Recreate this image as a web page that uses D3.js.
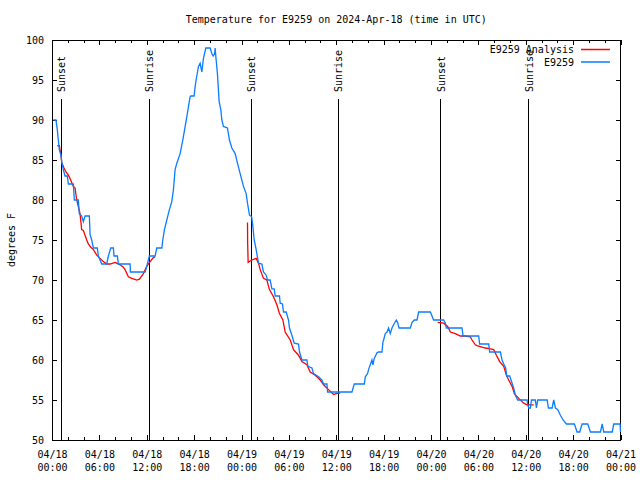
<!DOCTYPE html>
<html>
<head>
<meta charset="utf-8">
<script src="https://cdn.jsdelivr.net/npm/d3@7"></script>
<style>
  html, body { margin: 0; padding: 0; background: #fff; }
  svg { display: block; }
  text { font-family: "DejaVu Sans Mono", "Liberation Mono", monospace; font-size: 10px; fill: #000; }
</style>
</head>
<body>
<svg id="chart" width="640" height="480"></svg>
<script>
// ---- data (hours since 2024-04-18 00:00 UTC) ----
const titleText = "Temperature for E9259 on 2024-Apr-18 (time in UTC)";
const yLabel = "degrees F";
const seriesNames = ["E9259 Analysis", "E9259"];
const yTicks = [50, 55, 60, 65, 70, 75, 80, 85, 90, 95, 100];

const obsHours = [0.16,0.50,0.67,0.80,0.93,1.14,1.23,1.43,1.65,1.94,2.07,2.70,2.83,3.33,3.46,3.76,3.97,4.18,4.73,4.82,5.03,5.24,5.74,5.87,6.30,6.93,7.14,7.44,7.77,7.86,8.28,8.40,9.89,9.93,11.79,12.00,12.33,13.06,13.27,13.91,14.03,14.24,14.54,14.87,15.17,15.38,15.59,15.81,16.23,16.64,17.07,17.49,17.58,18.00,18.13,18.25,18.55,18.76,18.98,19.18,19.48,20.03,20.24,20.41,20.60,20.66,20.79,20.95,21.17,21.38,21.51,21.71,22.22,22.47,22.78,23.20,23.49,23.83,24.25,24.59,24.76,25.01,25.29,25.44,25.61,25.86,26.15,26.58,26.78,27.13,27.29,27.63,27.85,28.14,28.27,28.81,28.90,29.19,29.32,29.66,29.95,30.08,30.38,30.68,31.22,31.35,31.65,32.28,32.41,32.92,33.12,33.76,34.19,34.39,34.82,34.90,37.99,38.28,39.55,39.68,39.97,40.09,40.31,40.52,40.65,40.81,41.16,41.36,41.79,41.92,42.00,42.21,42.43,42.63,42.84,43.06,43.26,43.61,43.77,43.95,45.38,45.60,45.89,46.23,46.43,47.92,48.33,49.60,49.82,49.94,51.93,52.06,54.04,54.16,55.31,55.43,56.79,57.00,57.21,57.46,57.59,57.97,58.27,58.47,58.69,58.98,60.17,60.25,60.38,60.59,60.72,61.22,61.35,61.52,62.71,62.87,63.34,63.54,63.76,64.05,64.39,64.73,65.15,66.16,66.50,66.83,67.14,67.85,68.19,69.46,69.68,69.88,70.95,71.15,71.95,72.00];
const obsTemps = [90,90,88.8,87.5,86.3,85.6,84.8,83.8,83,83,82,82,80,80,78.3,78,77.3,78,78,75.7,75,74,74,73,72,72,73,74,74,73,73,72,72,71,71,71.7,73,73,74,74,75,76.3,77.5,78.8,79.8,81.3,83.8,84.6,85.8,87.9,90.4,92.9,93,93,94.2,95,96.7,97.1,96,97.7,99,99,98.3,98,98.3,99,97.5,95.8,92.3,91.3,90,89.2,89,87.5,86.5,85.8,84.6,83.3,81.7,80.8,79.6,78.1,77.9,76.7,75,73.8,72.1,72,71,70.6,70,70,68.9,68.9,68,68,67.1,67,66,66,65,64,63.1,62.1,62,61,60,60,59.2,59,58.3,57.9,57.5,57,57,56,56,57,57,57.9,58.3,58.8,59.4,60,59.4,60.2,60.9,61,61,62.3,62.5,63.3,63.5,64,63.3,64,64.4,65,64.7,64,64,64.7,65,65,66,66,65,65,64.6,64,64,63,63,62,62,61,61,60,59.5,59,58,58,57.1,56.5,55.6,55,55,54.4,54,54,55,55,54,55,55,54,54,55,54,53.8,53.1,52.5,52,52,51,51,52,52,51,51,52,51,51,52,52,51];

const anaHours1 = [0.67,0.93,1.01,1.14,1.23,1.52,1.77,2.07,2.37,2.57,2.70,2.92,3.13,3.33,3.55,3.76,3.97,4.18,4.40,4.60,4.91,5.24,5.67,6.08,6.50,6.93,7.35,7.99,8.62,9.04,9.25,9.67,10.10,10.74,11.07,11.57,12.00,12.42,12.84,13.06];
const anaTemps1 = [86.8,86.8,86.3,85.6,84.7,84,83.5,83.1,82.5,82,81.7,81.5,80,79.2,78.3,76.3,76.2,75.6,75,74.5,74.1,73.8,73.1,72.7,72.3,72,72,72.2,71.9,71.6,71.3,70.4,70.2,70,70.1,70.8,71.7,72.3,72.8,72.9];
const anaHours2 = [24.76,24.78,24.84,25.31,25.86,26.15,26.37,26.78,27.21,27.54,28.05,28.48,28.81,29.24,29.53,30.17,30.59,31.22,31.65,32.28,32.70,33.34,33.97,34.39,35.02,35.66,36.00,36.51];
const anaTemps2 = [77.2,74.6,72.2,72.5,72.7,72.1,71.3,70.2,70,68.8,67.9,66.9,65.8,65,63.5,62.5,61.3,60.6,59.8,59.4,58.5,58.1,57.5,56.9,56.3,55.7,55.8,55.9];
const anaHours3 = [48.84,49.60,50.11,50.45,51.08,51.72,52.35,52.98,53.20,53.62,53.83,54.88,55.51,55.94,56.28,56.70,57.21,57.55,57.84,58.27,58.56,59.11,59.74,60.17,61.01];
const anaTemps3 = [64.7,64.6,64.2,63.5,63.3,63,63,62.9,62.5,61.9,61.8,61.5,61.4,61.3,60.6,59.8,59.2,58.1,57.5,56.7,55.8,55.2,54.6,54.4,54.4];

const eventNames = ["Sunset", "Sunrise", "Sunset", "Sunrise", "Sunset", "Sunrise"];
const eventTimes = ["2024-04-18T01:11Z", "2024-04-18T12:19Z", "2024-04-19T01:15Z", "2024-04-19T12:17Z", "2024-04-20T01:13Z", "2024-04-20T12:22Z"];

// ---- layout ----
const svg = d3.select("#chart");
const L = 52, R = 620.5, T = 40, B = 440;
const t0 = Date.UTC(2024, 3, 18, 0, 0);
const t1 = Date.UTC(2024, 3, 21, 0, 0);
const toDate = h => new Date(t0 + h * 3600e3);

const x = d3.scaleUtc().domain([new Date(t0), new Date(t1)]).range([L, R]);
const y = d3.scaleLinear().domain([50, 100]).range([B, T]);

svg.append("rect").attr("width", 640).attr("height", 480).attr("fill", "#fff");

const majorX = d3.utcHour.every(6).range(new Date(t0), new Date(t1 + 1));
const minorX = d3.utcHour.every(2).range(new Date(t0), new Date(t1 + 1));
const fmtD = d3.utcFormat("%m/%d"), fmtT = d3.utcFormat("%H:%M");

// bottom axis with labels
const gxb = svg.append("g").attr("transform", `translate(0,${B})`)
  .call(d3.axisBottom(x).tickValues(majorX).tickSizeInner(-5).tickSizeOuter(0).tickPadding(6).tickFormat(""));
gxb.selectAll(".tick text").each(function(d) {
  const t = d3.select(this).attr("dy", null).attr("y", 18);
  t.append("tspan").attr("x", 0).attr("y", 18).text(fmtD(d));
  t.append("tspan").attr("x", 0).attr("y", 31).text(fmtT(d));
});
svg.append("g").attr("transform", `translate(0,${B})`)
  .call(d3.axisBottom(x).tickValues(minorX).tickSizeInner(-3).tickSizeOuter(0).tickFormat(""));
// top mirror
svg.append("g").attr("transform", `translate(0,${T})`)
  .call(d3.axisTop(x).tickValues(majorX).tickSizeInner(-5).tickSizeOuter(0).tickFormat(""));
svg.append("g").attr("transform", `translate(0,${T})`)
  .call(d3.axisTop(x).tickValues(minorX).tickSizeInner(-3).tickSizeOuter(0).tickFormat(""));
// left / right
svg.append("g").attr("transform", `translate(${L},0)`)
  .call(d3.axisLeft(y).tickValues(yTicks).tickSizeInner(-5).tickSizeOuter(0).tickPadding(8).tickFormat(d3.format("d")));
svg.append("g").attr("transform", `translate(${R},0)`)
  .call(d3.axisRight(y).tickValues(yTicks).tickSizeInner(-5).tickSizeOuter(0).tickFormat(""));

svg.selectAll(".domain").remove();
svg.selectAll(".tick line").attr("stroke", "#000").attr("shape-rendering", "crispEdges");
svg.selectAll(".tick text").attr("font-family", null).attr("font-size", null);

// border
svg.append("rect").attr("x", L).attr("y", T).attr("width", R - L).attr("height", B - T)
  .attr("fill", "none").attr("stroke", "#000").attr("shape-rendering", "crispEdges");

// sunrise / sunset markers
const ev = svg.append("g");
eventTimes.forEach((s, i) => {
  const xp = x(new Date(s));
  ev.append("line").attr("x1", xp).attr("x2", xp).attr("y1", 99).attr("y2", B)
    .attr("stroke", "#000").attr("shape-rendering", "crispEdges");
  ev.append("text").attr("transform", `translate(${xp + 4},92) rotate(-90)`)
    .attr("text-anchor", "start").text(eventNames[i]);
});

// lines
const line = d3.line().x(d => x(d[0])).y(d => y(d[1]));
const zipSeries = (hs, ts) => hs.map((h, i) => [toDate(h), ts[i]]);
const redColor = "#ff0000", blueColor = "#0a7cff";
[[anaHours1, anaTemps1], [anaHours2, anaTemps2], [anaHours3, anaTemps3]].forEach(([hs, ts]) => {
  svg.append("path").datum(zipSeries(hs, ts)).attr("d", line)
    .attr("fill", "none").attr("stroke", redColor).attr("stroke-width", 1.3);
});
svg.append("path").datum(zipSeries(obsHours, obsTemps)).attr("d", line)
  .attr("fill", "none").attr("stroke", blueColor).attr("stroke-width", 1.3);

// legend
const legColors = [redColor, blueColor];
seriesNames.forEach((n, i) => {
  const yy = 49.5 + i * 12.5;
  svg.append("text").attr("x", 574).attr("y", yy + 3.5).attr("text-anchor", "end").text(n);
  svg.append("line").attr("x1", 581).attr("x2", 610).attr("y1", yy).attr("y2", yy)
    .attr("stroke", legColors[i]).attr("stroke-width", 1.5);
});

// title & y label
svg.append("text").attr("x", (L + R) / 2).attr("y", 23).attr("text-anchor", "middle").text(titleText);
svg.append("text").attr("transform", `translate(15,240) rotate(-90)`).attr("text-anchor", "middle").text(yLabel);
</script>
</body>
</html>
